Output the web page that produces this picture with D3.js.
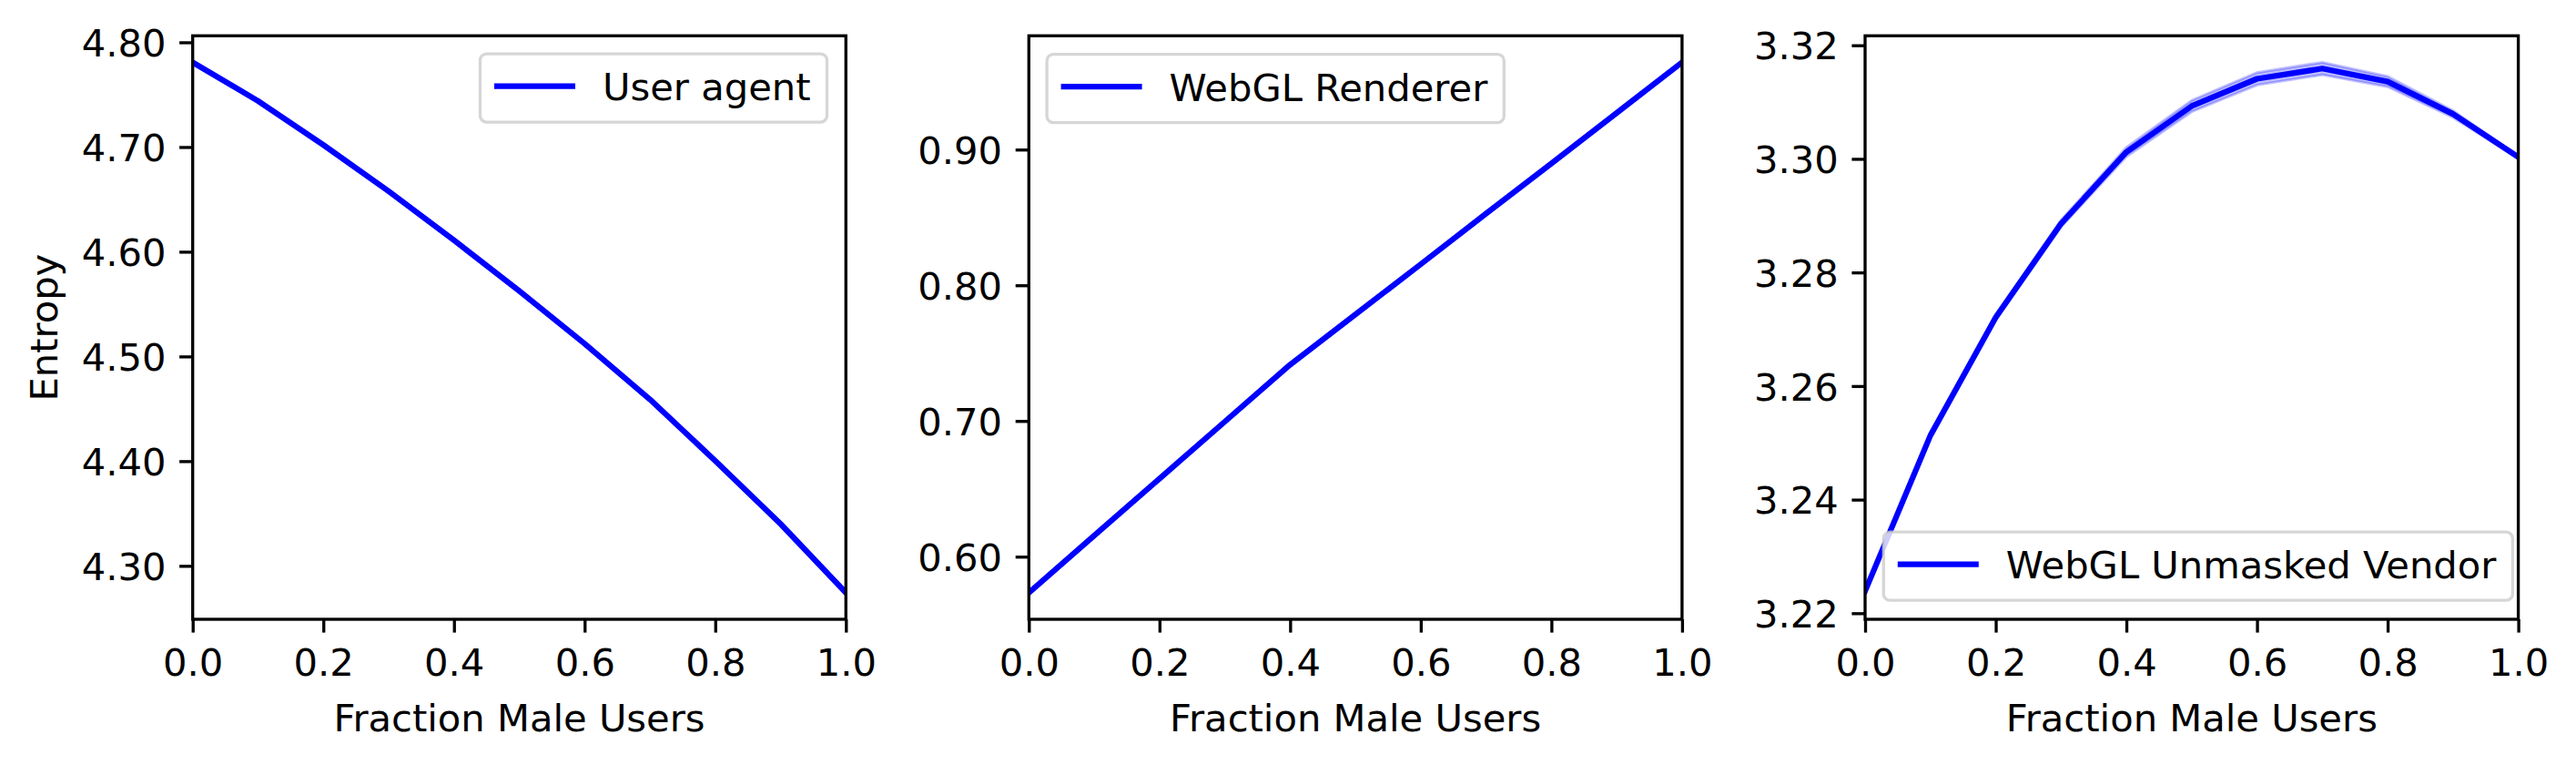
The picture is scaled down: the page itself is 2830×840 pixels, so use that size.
<!DOCTYPE html>
<html>
<head>
<meta charset="utf-8">
<script src="https://cdn.jsdelivr.net/npm/d3@7"></script>
<style>
html,body{margin:0;padding:0;background:#fff;}
svg{display:block;font-family:"DejaVu Sans",sans-serif;}
</style>
</head>
<body>
<svg id="chart" width="2830" height="840"></svg>
<script>
// ---- data ----
const fractionMale = [0.0, 0.1, 0.2, 0.3, 0.4, 0.5, 0.6, 0.7, 0.8, 0.9, 1.0];
const userAgentEntropy = [4.7809, 4.7440, 4.7020, 4.6577, 4.6110, 4.5626, 4.5122, 4.4590, 4.4003, 4.3401, 4.2743];
const webglRendererEntropy = [0.5734, 0.6155, 0.6575, 0.6995, 0.7415, 0.7785, 0.8155, 0.8528, 0.8898, 0.9270, 0.9643];
const webglVendorEntropy = [3.2239, 3.2513, 3.2721, 3.2886, 3.3012, 3.3093, 3.3141, 3.3159, 3.3136, 3.3079, 3.3003];
const webglVendorLower = [3.2236, 3.2509, 3.2716, 3.2880, 3.3004, 3.3083, 3.3130, 3.3148, 3.3127, 3.3073, 3.3001];
const webglVendorUpper = [3.2242, 3.2517, 3.2726, 3.2892, 3.3020, 3.3103, 3.3152, 3.3170, 3.3145, 3.3085, 3.3005];
const xTickValues = [0.0, 0.2, 0.4, 0.6, 0.8, 1.0];
const yTicksUserAgent = [4.30, 4.40, 4.50, 4.60, 4.70, 4.80];
const yTicksRenderer = [0.60, 0.70, 0.80, 0.90];
const yTicksVendor = [3.22, 3.24, 3.26, 3.28, 3.30, 3.32];
const seriesNames = ["User agent", "WebGL Renderer", "WebGL Unmasked Vendor"];
const xLabel = "Fraction Male Users";
const yLabel = "Entropy";

// ---- layout ----
const fs = 41.67;              // 10pt at 300 dpi
const lw = 6.25;               // 1.5pt line
const spineW = 3.33;
const tickLen = 14.6, tickPad = 14.6;
const plotTop = 39.3, plotBottom = 680;
const panelLefts = [211.7, 1130.3, 2049];
const panelW = 717.6;

const panels = [
  {values: userAgentEntropy, yTicks: yTicksUserAgent, name: seriesNames[0], legend: "upper right", showYLabel: true},
  {values: webglRendererEntropy, yTicks: yTicksRenderer, name: seriesNames[1], legend: "upper left"},
  {values: webglVendorEntropy, lower: webglVendorLower, upper: webglVendorUpper, yTicks: yTicksVendor, name: seriesNames[2], legend: "lower left"}
];

const svg = d3.select("#chart");
const defs = svg.append("defs");

panels.forEach((p, i) => {
  const left = panelLefts[i], right = left + panelW;
  const x = d3.scaleLinear().domain([0, 1]).range([left, right]);
  const all = p.values.concat(p.lower || [], p.upper || []);
  const mn = d3.min(all), mx = d3.max(all), m = (mx - mn) * 0.05;
  const y = d3.scaleLinear().domain([mn - m, mx + m]).range([plotBottom, plotTop]);

  const g = svg.append("g");
  const clipId = "clip" + i;
  defs.append("clipPath").attr("id", clipId)
    .append("rect").attr("x", left).attr("y", plotTop).attr("width", panelW).attr("height", plotBottom - plotTop);

  const plot = g.append("g").attr("clip-path", `url(#${clipId})`);
  const pts = fractionMale.map((f, k) => ({x: f, y: p.values[k], lo: p.lower ? p.lower[k] : null, hi: p.upper ? p.upper[k] : null}));
  if (p.lower) {
    plot.append("path").datum(pts)
      .attr("d", d3.area().x(d => x(d.x)).y0(d => y(d.lo)).y1(d => y(d.hi)))
      .attr("fill", "#0000ff").attr("fill-opacity", 0.25)
      .attr("stroke", "#0000ff").attr("stroke-opacity", 0.25).attr("stroke-width", 3);
  }
  plot.append("path").datum(pts)
    .attr("d", d3.line().x(d => x(d.x)).y(d => y(d.y)))
    .attr("fill", "none").attr("stroke", "#0000ff").attr("stroke-width", lw)
    .attr("stroke-linejoin", "round").attr("stroke-linecap", "square");

  // axes
  const xAxis = d3.axisBottom(x).tickValues(xTickValues).tickFormat(d3.format(".1f"))
    .tickSize(tickLen).tickPadding(tickPad);
  const yAxis = d3.axisLeft(y).tickValues(p.yTicks).tickFormat(d3.format(".2f"))
    .tickSize(tickLen).tickPadding(tickPad);
  const gx = g.append("g").attr("transform", `translate(0,${plotBottom})`).call(xAxis);
  const gy = g.append("g").attr("transform", `translate(${left},0)`).call(yAxis);
  [gx, gy].forEach(ax => {
    ax.select(".domain").remove();
    ax.selectAll(".tick line").attr("stroke", "#000").attr("stroke-width", spineW);
    ax.selectAll(".tick text").attr("fill", "#000").style("font-size", fs + "px")
      .style("font-family", "'DejaVu Sans', sans-serif");
  });
  gx.selectAll(".tick text").attr("dy", null).attr("y", 61.7);
  gy.selectAll(".tick text").attr("dy", "0.365em");

  // spines
  g.append("rect").attr("x", left).attr("y", plotTop).attr("width", panelW).attr("height", plotBottom - plotTop)
    .attr("fill", "none").attr("stroke", "#000").attr("stroke-width", spineW);

  // axis labels
  g.append("text").attr("x", (left + right) / 2).attr("y", 802.7).attr("text-anchor", "middle")
    .style("font-size", fs + "px").attr("fill", "#000").text(xLabel);
  if (p.showYLabel) {
    g.append("text").attr("transform", `translate(63,${(plotTop + plotBottom) / 2}) rotate(-90)`)
      .attr("text-anchor", "middle").style("font-size", fs + "px").attr("fill", "#000").text(yLabel);
  }

  // legend
  const lg = g.append("g");
  const txt = lg.append("text").style("font-size", fs + "px").attr("fill", "#000").text(p.name);
  const tw = txt.node().getComputedTextLength();
  const padL = 15.5, handleLen = 89, handleGap = 30, padR = 18;
  const boxW = padL + handleLen + handleGap + tw + padR, boxH = 75;
  const inset = 20.8;
  let bx, by;
  if (p.legend === "upper right") { bx = right - inset - boxW; by = plotTop + inset - 1; }
  else if (p.legend === "upper left") { bx = left + inset - 1; by = plotTop + inset - 0.5; }
  else { bx = left + inset - 0.5; by = plotBottom - inset - boxH; }
  lg.insert("rect", "text").attr("x", bx).attr("y", by).attr("width", boxW).attr("height", boxH)
    .attr("rx", 7).attr("ry", 7)
    .attr("fill", "#ffffff").attr("fill-opacity", 0.8)
    .attr("stroke", "#cccccc").attr("stroke-opacity", 0.8).attr("stroke-width", spineW);
  const cy = by + boxH / 2;
  lg.insert("line", "text").attr("x1", bx + padL).attr("x2", bx + padL + handleLen)
    .attr("y1", cy - 2).attr("y2", cy - 2)
    .attr("stroke", "#0000ff").attr("stroke-width", lw);
  txt.attr("x", bx + padL + handleLen + handleGap).attr("y", cy + 13.5);
});
</script>
</body>
</html>
